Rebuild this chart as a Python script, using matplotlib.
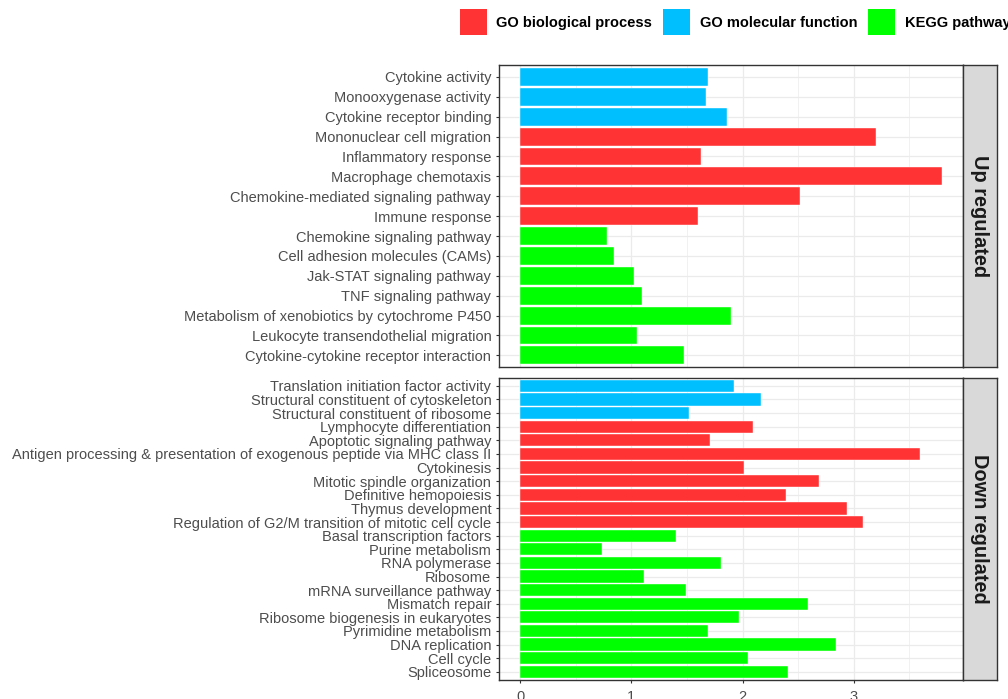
import numpy as np
import matplotlib.pyplot as plt
from matplotlib.patches import Patch

plt.rcParams['font.family'] = ['Liberation Sans', 'DejaVu Sans']

# ---- data ----
up_terms = ['Cytokine activity', 'Monooxygenase activity', 'Cytokine receptor binding',
            'Mononuclear cell migration', 'Inflammatory response', 'Macrophage chemotaxis',
            'Chemokine-mediated signaling pathway', 'Immune response',
            'Chemokine signaling pathway', 'Cell adhesion molecules (CAMs)',
            'Jak-STAT signaling pathway', 'TNF signaling pathway',
            'Metabolism of xenobiotics by cytochrome P450',
            'Leukocyte transendothelial migration', 'Cytokine-cytokine receptor interaction']
up_values = [1.69, 1.67, 1.86, 3.20, 1.63, 3.79, 2.52, 1.60,
             0.78, 0.84, 1.02, 1.10, 1.90, 1.05, 1.47]
up_types = ['MF', 'MF', 'MF', 'BP', 'BP', 'BP', 'BP', 'BP',
            'KEGG', 'KEGG', 'KEGG', 'KEGG', 'KEGG', 'KEGG', 'KEGG']

down_terms = ['Translation initiation factor activity', 'Structural constituent of cytoskeleton',
              'Structural constituent of ribosome', 'Lymphocyte differentiation',
              'Apoptotic signaling pathway',
              'Antigen processing & presentation of exogenous peptide via MHC class II',
              'Cytokinesis', 'Mitotic spindle organization', 'Definitive hemopoiesis',
              'Thymus development', 'Regulation of G2/M transition of mitotic cell cycle',
              'Basal transcription factors', 'Purine metabolism', 'RNA polymerase', 'Ribosome',
              'mRNA surveillance pathway', 'Mismatch repair', 'Ribosome biogenesis in eukaryotes',
              'Pyrimidine metabolism', 'DNA replication', 'Cell cycle', 'Spliceosome']
down_values = [1.92, 2.17, 1.52, 2.09, 1.71, 3.60, 2.01, 2.69, 2.39, 2.94, 3.08,
               1.40, 0.74, 1.81, 1.11, 1.49, 2.59, 1.97, 1.69, 2.84, 2.05, 2.41]
down_types = ['MF', 'MF', 'MF', 'BP', 'BP', 'BP', 'BP', 'BP', 'BP', 'BP', 'BP',
              'KEGG', 'KEGG', 'KEGG', 'KEGG', 'KEGG', 'KEGG', 'KEGG', 'KEGG', 'KEGG', 'KEGG', 'KEGG']

type_labels = {'BP': 'GO biological process', 'MF': 'GO molecular function', 'KEGG': 'KEGG pathway'}
type_colors = {'BP': '#FF3333', 'MF': '#00BFFF', 'KEGG': '#00FF00'}

panels = [('Up regulated', up_terms, up_values, up_types),
          ('Down regulated', down_terms, down_values, down_types)]

W, H = 1008, 699
fig = plt.figure(figsize=(W / 100, H / 100), dpi=100)

vmax = max(max(up_values), max(down_values))
xlim = (-0.05 * vmax, 1.05 * vmax)

# panel boxes in pixels: (top, bottom)
px_left, px_right, strip_right = 499, 962.7, 996.7
boxes = [(65, 367.3), (377.7, 680)]

for i, ((name, terms, vals, types), (ptop, pbot)) in enumerate(zip(panels, boxes)):
    ax = fig.add_axes([px_left / W, 1 - pbot / H, (px_right - px_left) / W, (pbot - ptop) / H])
    n = len(terms)
    pos = np.arange(n)
    ax.barh(pos, vals, height=0.9, color=[type_colors[t] for t in types],
            edgecolor='white', linewidth=0.3, zorder=3)
    ax.set_xlim(*xlim)
    ax.set_ylim(n - 0.4, -0.6)
    ax.set_yticks(pos)
    ax.set_yticklabels(terms)
    ax.set_xticks([0, 1, 2, 3])
    ax.set_xticks([0.5, 1.5, 2.5, 3.5], minor=True)
    ax.grid(True, which='major', color='#EBEBEB', linewidth=0.9, zorder=0)
    ax.grid(True, which='minor', axis='x', color='#EBEBEB', linewidth=0.5, zorder=0)
    ax.set_axisbelow(True)
    ax.tick_params(axis='both', which='major', colors='#333333', labelcolor='#4D4D4D',
                   labelsize=10.5, length=2.5, width=0.8, pad=3)
    ax.tick_params(axis='x', which='minor', length=0)
    ax.tick_params(axis='x', pad=5)
    if i == 0:
        ax.tick_params(axis='x', which='both', labelbottom=False, length=0)
    for s in ax.spines.values():
        s.set_color('#333333')
        s.set_linewidth(1.0)

    # facet strip
    sax = fig.add_axes([px_right / W, 1 - pbot / H, (strip_right - px_right) / W, (pbot - ptop) / H])
    sax.set_facecolor('#D9D9D9')
    sax.set_xticks([])
    sax.set_yticks([])
    for s in sax.spines.values():
        s.set_color('#333333')
        s.set_linewidth(1.0)
    sax.text(0.5, 0.5, name, rotation=-90, ha='center', va='center', fontsize=14.4,
             fontweight='bold', color='#1A1A1A', transform=sax.transAxes)

handles = [Patch(facecolor=type_colors[k], edgecolor='none') for k in ['BP', 'MF', 'KEGG']]
fig.legend(handles, [type_labels[k] for k in ['BP', 'MF', 'KEGG']],
           loc='center left', bbox_to_anchor=(460 / W, 1 - 22 / H), ncol=3, frameon=False,
           prop={'weight': 'bold', 'size': 10.5}, handlelength=1.82, handleheight=2.3,
           handletextpad=0.68, columnspacing=0.75, borderpad=0, borderaxespad=0)

fig.savefig('out.png', dpi=100)
